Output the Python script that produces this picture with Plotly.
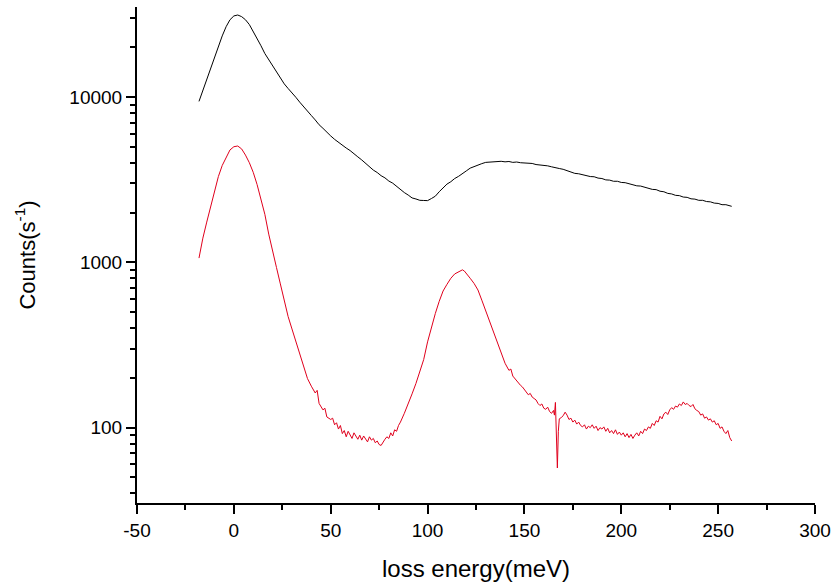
import plotly.graph_objects as go

# Loss spectra (meV vs counts per second)
energy_black = [-18, -16, -14, -12, -10, -8, -6, -4, -2, 0, 2, 4, 6, 8, 10, 12, 14, 16, 18, 20,
                22, 24, 26, 28, 30, 32, 34, 36, 38, 40, 42, 44, 46, 48, 50, 52, 54, 56, 58, 60,
                62, 64, 66, 68, 70, 72, 74, 76, 78, 80, 82, 84, 86, 88, 90, 92, 94, 96, 98, 100,
                102, 104, 106, 108, 110, 112, 114, 116, 118, 120, 122, 124, 126, 128, 130, 132,
                134, 136, 138, 140, 142, 144, 146, 148, 150, 152, 154, 156, 158, 160, 162, 164,
                166, 168, 170, 172, 174, 176, 178, 180, 182, 184, 186, 188, 190, 192, 194, 196,
                198, 200, 202, 204, 206, 208, 210, 212, 214, 216, 218, 220, 222, 224, 226, 228,
                230, 232, 234, 236, 238, 240, 242, 244, 246, 248, 250, 252, 254, 256, 257]
counts_black = [9400, 11000, 12700, 14900, 17400, 20300, 23400, 26600, 29300, 30900, 31300, 30600,
                29300, 27400, 25000, 22600, 20400, 18300, 16800, 15300, 14100, 13050, 12000, 11250,
                10500, 9950, 9300, 8780, 8230, 7720, 7260, 6790, 6460, 6090, 5810, 5540, 5310, 5070,
                4910, 4740, 4560, 4340, 4160, 3950, 3790, 3610, 3490, 3340, 3240, 3100, 3010, 2870,
                2770, 2640, 2550, 2450, 2415, 2370, 2365, 2360, 2430, 2510, 2670, 2810, 2970, 3070,
                3210, 3310, 3460, 3570, 3710, 3790, 3900, 3950, 4020, 4040, 4080, 4060, 4080, 4050,
                4070, 4020, 4040, 4000, 3990, 3950, 3960, 3900, 3890, 3840, 3830, 3780, 3750, 3690,
                3650, 3570, 3510, 3450, 3430, 3380, 3360, 3300, 3290, 3230, 3210, 3150, 3140, 3090,
                3090, 3040, 3030, 2980, 2960, 2900, 2890, 2840, 2820, 2760, 2750, 2690, 2670, 2610,
                2590, 2540, 2530, 2480, 2470, 2420, 2410, 2370, 2370, 2330, 2320, 2280, 2270, 2230,
                2230, 2180, 2180]

energy_red = [-18, -16, -14, -12, -10, -8, -6, -4, -2, 0, 2, 4, 6, 8, 10, 12, 14, 16, 18, 20,
              22, 24, 26, 28, 30, 32, 34, 36, 38, 40, 42, 43, 44, 46, 47, 48, 50, 51, 52, 53,
              54, 55, 56, 57, 58, 59, 60, 61, 62, 63, 64, 65, 66, 67, 68, 69, 70, 71, 72, 73,
              74, 75, 76, 77, 78, 79, 80, 81, 82, 83, 84, 85, 86, 88, 89, 90, 92, 94, 96, 98,
              100, 102, 104, 106, 108, 110, 112, 114, 116, 117, 118, 119, 120, 122, 124, 126,
              128, 130, 132, 134, 136, 138, 140, 142, 143, 144, 146, 147, 148, 149, 150, 151,
              152, 153, 154, 155, 156, 157, 158, 159, 160, 161, 162, 163, 164, 165, 165.5, 166,
              166.5, 167, 167.5, 168, 169, 170, 171, 172, 173, 174, 175, 176, 177, 178, 179,
              180, 181, 182, 183, 184, 185, 186, 187, 188, 189, 190, 191, 192, 193, 194, 195,
              196, 197, 198, 199, 200, 201, 202, 203, 204, 205, 206, 207, 208, 209, 210, 211,
              212, 213, 214, 215, 216, 217, 218, 219, 220, 221, 222, 223, 224, 225, 226, 227,
              228, 229, 230, 231, 232, 233, 234, 235, 236, 237, 238, 239, 240, 241, 242, 243,
              244, 245, 246, 247, 248, 249, 250, 251, 252, 253, 254, 255, 256, 257]
counts_red = [1060, 1400, 1750, 2150, 2700, 3300, 3850, 4300, 4780, 5000, 5050, 4850, 4450, 4000,
              3500, 2950, 2420, 1950, 1480, 1150, 930, 740, 590, 470, 395, 330, 278, 232, 198,
              178, 162, 168, 140, 128, 131, 116, 112, 114, 104, 107, 98, 103, 92, 96, 88, 95, 91,
              86, 93, 89, 85, 90, 84, 89, 86, 82, 88, 84, 86, 81, 83, 79, 78, 82, 85, 88, 86, 93,
              89, 97, 95, 103, 108, 122, 130, 140, 160, 185, 218, 258, 330, 410, 490, 580, 670,
              735, 800, 850, 880, 895, 900, 885, 860, 800, 745, 680, 590, 510, 440, 380, 330, 285,
              245, 222, 226, 205, 192, 184, 180, 176, 170, 163, 158, 161, 153, 150, 147, 140, 136,
              139, 131, 129, 133, 125, 122, 127, 119, 142, 75, 57, 95, 113, 115, 118, 124, 119,
              112, 114, 108, 111, 105, 108, 103, 101, 104, 98, 102, 100, 104, 99, 102, 96, 100,
              98, 101, 95, 99, 93, 96, 92, 97, 91, 94, 90, 93, 88, 92, 87, 91, 86, 90, 93, 89, 95,
              92, 98, 96, 101, 99, 106, 103, 110, 108, 117, 113, 121, 124, 120, 128, 132, 129,
              135, 133, 139, 136, 143, 138, 140, 136, 134, 138, 130, 127, 125, 119, 121, 114, 116,
              111, 113, 108, 110, 104, 106, 99, 101, 95, 92, 96, 87, 83]

x_ticks = [-50, 0, 50, 100, 150, 200, 250, 300]
x_tick_text = ["-50", "0", "50", "100", "150", "200", "250", "300"]
y_ticks = [100, 1000, 10000]
y_tick_text = ["100", "1000", "10000"]

FONT = "Liberation Sans, Arial, sans-serif"

fig = go.Figure()
fig.add_trace(go.Scatter(x=energy_black, y=counts_black, mode="lines",
                         line=dict(color="#000000", width=1), showlegend=False))
fig.add_trace(go.Scatter(x=energy_red, y=counts_red, mode="lines",
                         line=dict(color="#e0001c", width=1), showlegend=False))

fig.update_layout(
    width=834, height=586,
    margin=dict(l=137, r=19, t=7, b=83),
    paper_bgcolor="white", plot_bgcolor="white",
    font=dict(family=FONT, size=19, color="#000000"),
    xaxis=dict(
        range=[-50, 300], tickvals=x_ticks, ticktext=x_tick_text,
        showgrid=False, zeroline=False, automargin=False,
        showline=True, linecolor="black", linewidth=2,
        ticks="outside", ticklen=9, tickwidth=2, tickcolor="black",
        minor=dict(ticks="outside", ticklen=5, tickwidth=2, tickcolor="black", dtick=25),
        tickfont=dict(size=19),
        title=dict(text="loss energy(meV)", font=dict(size=24), standoff=20),
    ),
    yaxis=dict(
        type="log", range=[1.544, 4.544], tickvals=y_ticks, ticktext=y_tick_text,
        showgrid=False, zeroline=False, automargin=False,
        showline=True, linecolor="black", linewidth=2,
        ticks="outside", ticklen=9, tickwidth=2, tickcolor="black",
        minor=dict(ticks="outside", ticklen=5, tickwidth=2, tickcolor="black", dtick="D1"),
        tickfont=dict(size=19),
        title=dict(text="Counts(s<sup>-1</sup>)", font=dict(size=22), standoff=28),
    ),
)

fig.write_html("out.html")
